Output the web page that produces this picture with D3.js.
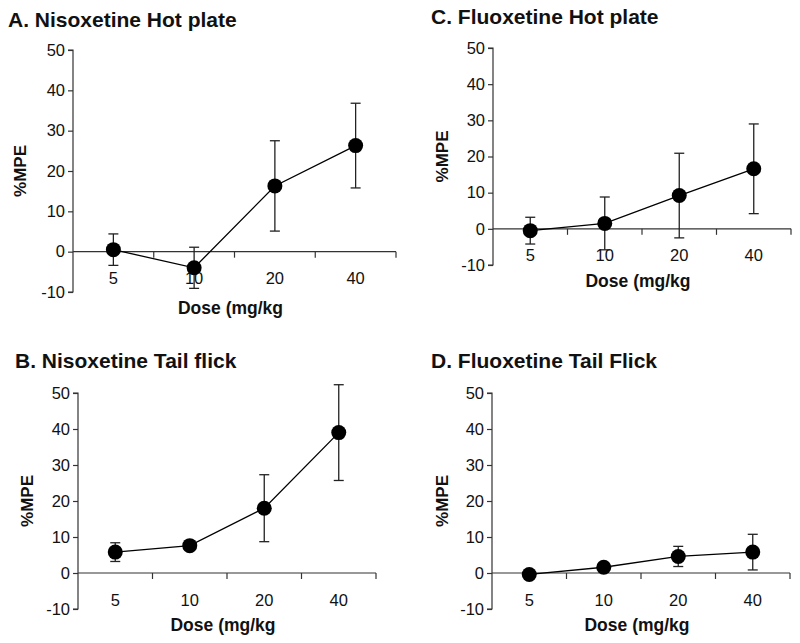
<!DOCTYPE html>
<html>
<head>
<meta charset="utf-8">
<script src="https://cdn.jsdelivr.net/npm/d3@7"></script>
<style>
  body { margin: 0; background: #fff; }
  svg { display: block; }
  text { font-family: "Liberation Sans", Arial, sans-serif; fill: #111; }
</style>
</head>
<body>
<svg id="chart" width="800" height="643"></svg>
<script>
// ---- data ----
const doses = ["5", "10", "20", "40"];
const yTicks = [-10, 0, 10, 20, 30, 40, 50];
const titles = ["A. Nisoxetine Hot plate", "C. Fluoxetine Hot plate", "B. Nisoxetine Tail flick", "D. Fluoxetine Tail Flick"];
const meanA = [0.5, -4.0, 16.3, 26.3];
const errA  = [3.9, 5.1, 11.2, 10.5];
const meanC = [-0.5, 1.5, 9.2, 16.6];
const errC  = [3.7, 7.3, 11.7, 12.4];
const meanB = [5.8, 7.6, 18.0, 39.0];
const errB  = [2.6, 1.2, 9.3, 13.3];
const meanD = [-0.4, 1.6, 4.6, 5.8];
const errD  = [1.0, 1.0, 2.8, 4.95];
const xTitle = "Dose (mg/kg";
const yTitle = "%MPE";

// ---- layout (positions only) ----
const panels = [
  { title: titles[0], mean: meanA, err: errA, left: 73,  right: 396, top: 50,  bottom: 292, tx: 8,   ty: 27,  yl: 20 },
  { title: titles[1], mean: meanC, err: errC, left: 493, right: 791, top: 48,  bottom: 265, tx: 431, ty: 24,  yl: 442 },
  { title: titles[2], mean: meanB, err: errB, left: 78,  right: 376, top: 393, bottom: 609, tx: 15,  ty: 368, yl: 27 },
  { title: titles[3], mean: meanD, err: errD, left: 492, right: 790, top: 393, bottom: 609, tx: 431, ty: 368, yl: 442 }
];

const svg = d3.select("#chart");
const axisColor = "#333";

panels.forEach(p => {
  const g = svg.append("g");
  const x = d3.scaleBand().domain(doses).range([p.left, p.right]);
  const y = d3.scaleLinear().domain([-10, 50]).range([p.bottom, p.top]);
  const y0 = y(0);

  // title
  g.append("text").attr("x", p.tx).attr("y", p.ty)
    .style("font-size", "21px").style("font-weight", "bold").text(p.title);

  // y axis
  const yAxis = d3.axisLeft(y).tickValues(yTicks).tickSize(5).tickPadding(3).tickFormat(d => String(d));
  const ya = g.append("g").attr("transform", `translate(${p.left},0)`).call(yAxis);
  ya.select(".domain").attr("stroke", axisColor).attr("stroke-width", 1.2).attr("d", `M-5,${p.top}H0V${p.bottom}H-5`);
  ya.selectAll(".tick line").attr("stroke", axisColor).attr("stroke-width", 1.2);
  ya.selectAll(".tick text").style("font-size", "16.5px").style("font-family", "Liberation Sans, Arial, sans-serif").attr("fill", "#111");

  // x axis at y=0
  const xa = g.append("g").attr("transform", `translate(0,${y0})`);
  xa.append("line").attr("x1", p.left).attr("x2", p.right).attr("y1", 0).attr("y2", 0)
    .attr("stroke", axisColor).attr("stroke-width", 1.2);
  const bounds = doses.map(d => x(d) + x.bandwidth());
  xa.selectAll("line.tk").data(bounds).join("line").attr("class", "tk")
    .attr("x1", d => d).attr("x2", d => d).attr("y1", 0).attr("y2", 6)
    .attr("stroke", axisColor).attr("stroke-width", 1.2);
  xa.selectAll("text").data(doses).join("text")
    .attr("x", d => x(d) + x.bandwidth() / 2).attr("y", 32.5)
    .attr("text-anchor", "middle").style("font-size", "16.5px").text(d => d);

  // axis titles
  g.append("text").attr("x", (p.left + p.right) / 2 - 4).attr("y", p.bottom + 22)
    .attr("text-anchor", "middle").style("font-size", "17.5px").style("font-weight", "bold").text(xTitle);
  g.append("text").attr("transform", `translate(${p.yl},${(p.top + p.bottom) / 2}) rotate(-90)`)
    .attr("text-anchor", "middle").attr("dy", "0.35em")
    .style("font-size", "17px").style("font-weight", "bold").text(yTitle);

  const pts = doses.map((d, i) => ({ d, m: p.mean[i], e: p.err[i] }));
  const cx = d => x(d.d) + x.bandwidth() / 2;

  // error bars
  const eb = g.append("g").attr("stroke", "#222").attr("stroke-width", 1.3);
  pts.forEach(d => {
    eb.append("line").attr("x1", cx(d)).attr("x2", cx(d)).attr("y1", y(d.m + d.e)).attr("y2", y(d.m - d.e));
    eb.append("line").attr("x1", cx(d) - 5).attr("x2", cx(d) + 5).attr("y1", y(d.m + d.e)).attr("y2", y(d.m + d.e));
    eb.append("line").attr("x1", cx(d) - 5).attr("x2", cx(d) + 5).attr("y1", y(d.m - d.e)).attr("y2", y(d.m - d.e));
  });

  // line
  g.append("path").datum(pts)
    .attr("d", d3.line().x(cx).y(d => y(d.m)))
    .attr("fill", "none").attr("stroke", "#000").attr("stroke-width", 1.3);

  // markers
  g.selectAll("circle").data(pts).join("circle")
    .attr("cx", cx).attr("cy", d => y(d.m)).attr("r", 7.5).attr("fill", "#000");
});
</script>
</body>
</html>
